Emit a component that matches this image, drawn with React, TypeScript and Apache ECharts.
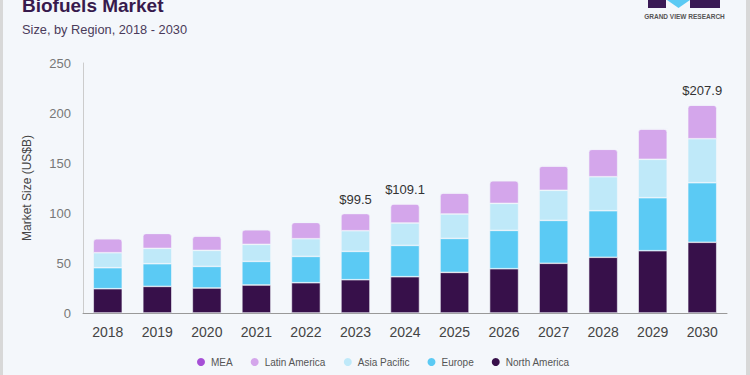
import React, { useEffect, useRef } from "react";
import * as echarts from "echarts";

const years = ["2018", "2019", "2020", "2021", "2022", "2023", "2024", "2025", "2026", "2027", "2028", "2029", "2030"];
const northAmerica = [24.3, 26.6, 25.0, 28.0, 30.3, 33.3, 36.3, 40.6, 44.3, 49.7, 55.7, 62.3, 70.7];
const europe = [21.0, 22.7, 21.6, 23.6, 26.3, 28.3, 31.3, 34.0, 38.3, 42.9, 46.6, 53.0, 59.6];
const asiaPacific = [15.0, 15.3, 16.0, 17.0, 17.7, 20.7, 22.4, 24.4, 27.0, 30.1, 34.0, 38.4, 44.0];
const latinAmerica = [14.0, 15.0, 14.4, 14.7, 16.3, 17.2, 19.1, 21.0, 22.7, 24.3, 27.4, 30.3, 33.6];
const mea = [0, 0, 0, 0, 0, 0, 0, 0, 0, 0, 0, 0, 0];
const labeledTotals: Record<string, string> = { "2023": "$99.5", "2024": "$109.1", "2030": "$207.9" };
const yTicks = { min: 0, max: 250, interval: 50 };
const legendNames = ["MEA", "Latin America", "Asia Pacific", "Europe", "North America"];

const colors: Record<string, string> = {
  MEA: "#a64fd6",
  "Latin America": "#d4a6eb",
  "Asia Pacific": "#bfe9f9",
  Europe: "#5bcaf4",
  "North America": "#37104a",
};

export default function App() {
  const ref = useRef<HTMLDivElement>(null);
  useEffect(() => {
    if (!ref.current) return;
    const chart = echarts.init(ref.current, undefined, { renderer: "svg" });
    const font = "Liberation Sans, Arial, Helvetica, sans-serif";
    const mk = (name: string, data: any[], radius = false) => ({
      name,
      type: "bar",
      stack: "total",
      barWidth: 29,
      data,
      itemStyle: {
        color: colors[name],
        borderColor: "#f4f7fb",
        borderWidth: 0.6,
        borderRadius: radius ? [3, 3, 0, 0] : 0,
      },
    });
    const laData = latinAmerica.map((v, i) => {
      const t = labeledTotals[years[i]];
      if (!t) return v;
      return {
        value: v,
        label: {
          show: true,
          position: "top",
          distance: 8,
          formatter: t,
          color: "#333",
          fontSize: 13,
          fontFamily: font,
        },
      };
    });
    chart.setOption({
      animation: false,
      backgroundColor: "#f4f7fb",
      textStyle: { fontFamily: font },
      grid: { left: 83, right: 23, top: 63, bottom: 62, containLabel: false },
      legend: {
        data: legendNames,
        icon: "circle",
        itemWidth: 10,
        itemHeight: 10,
        itemGap: 16,
        left: 190,
        top: 351,
        textStyle: { color: "#555", fontSize: 10, fontFamily: font },
      },
      xAxis: {
        type: "category",
        data: years,
        axisLine: { lineStyle: { color: "#999", width: 1 } },
        axisTick: { show: false },
        axisLabel: { color: "#444", fontSize: 14, margin: 12, fontFamily: font },
      },
      yAxis: {
        type: "value",
        min: yTicks.min,
        max: yTicks.max,
        interval: yTicks.interval,
        name: "Market Size (US$B)",
        nameLocation: "middle",
        nameGap: 50,
        nameTextStyle: { color: "#444", fontSize: 12, fontFamily: font },
        axisLine: { show: true, lineStyle: { color: "#ccc" } },
        axisTick: { show: false },
        splitLine: { show: false },
        axisLabel: { color: "#777", fontSize: 13, margin: 12, fontFamily: font },
      },
      series: [
        mk("North America", northAmerica),
        mk("Europe", europe),
        mk("Asia Pacific", asiaPacific),
        mk("Latin America", laData, true),
        mk("MEA", mea),
      ],
      graphic: [
        { type: "rect", shape: { x: 0, y: 0, width: 3, height: 375 }, style: { fill: "#d8d8d8" } },
        { type: "rect", shape: { x: 746, y: 0, width: 4, height: 375 }, style: { fill: "#d8d8d8" } },
        {
          type: "text",
          x: 22,
          y: 5.5,
          style: { text: "Biofuels Market", fill: "#371a4d", font: `bold 19px ${font}`, verticalAlign: "middle" },
        },
        {
          type: "text",
          x: 22,
          y: 29.5,
          style: { text: "Size, by Region, 2018 - 2030", fill: "#4a3b5a", font: `12.8px ${font}`, verticalAlign: "middle" },
        },
        { type: "rect", shape: { x: 648, y: -2, width: 18, height: 10 }, style: { fill: "#3a1a55" } },
        { type: "polygon", shape: { points: [[667, 0], [690, 0], [678.5, 8]] }, style: { fill: "#5bcaf4" } },
        { type: "rect", shape: { x: 690, y: -2, width: 30, height: 10 }, style: { fill: "#3a1a55" } },
        {
          type: "text",
          x: 684.5,
          y: 16.5,
          style: { text: "GRAND VIEW RESEARCH", fill: "#555", font: `bold 6.5px ${font}`, align: "center", verticalAlign: "middle" },
        },
      ],
    });
    return () => chart.dispose();
  }, []);
  return <div ref={ref} style={{ position: "fixed", left: 0, top: 0, width: 750, height: 375 }} />;
}
